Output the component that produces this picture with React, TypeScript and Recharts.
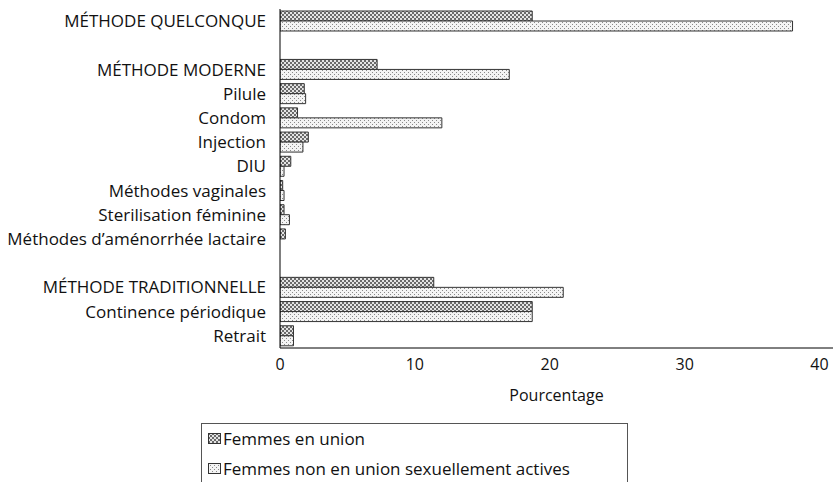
import { BarChart, Bar, XAxis, YAxis } from "recharts";

const categories = [
  "MÉTHODE QUELCONQUE",
  "",
  "MÉTHODE MODERNE",
  "Pilule",
  "Condom",
  "Injection",
  "DIU",
  "Méthodes vaginales",
  "Sterilisation féminine",
  "Méthodes d’aménorrhée lactaire",
  " ",
  "MÉTHODE TRADITIONNELLE",
  "Continence périodique",
  "Retrait",
];

const enUnion = [18.7, null, 7.2, 1.8, 1.3, 2.1, 0.8, 0.2, 0.3, 0.4, null, 11.4, 18.7, 1.0];
const nonUnion = [38.0, null, 17.0, 1.9, 12.0, 1.7, 0.3, 0.3, 0.7, 0, null, 21.0, 18.7, 1.0];

const xTicks = [0, 10, 20, 30, 40];

const data = categories.map((name, i) => ({
  name,
  enUnion: enUnion[i],
  nonUnion: nonUnion[i],
}));

const font = "'Open Sans', Lato, sans-serif";

function Patterns({ prefix }: { prefix: string }) {
  return (
    <defs>
      <pattern id={`${prefix}-cross`} width="4" height="4" patternUnits="userSpaceOnUse">
        <rect width="4" height="4" fill="#e4e4e4" />
        <rect x="0" y="0" width="2" height="2" fill="#6a6a6a" />
        <rect x="2" y="2" width="2" height="2" fill="#6a6a6a" />
      </pattern>
      <pattern id={`${prefix}-dots`} width="4" height="4" patternUnits="userSpaceOnUse">
        <rect width="4" height="4" fill="#f4f4f4" />
        <rect x="0" y="0" width="1" height="1" fill="#8a8a8a" />
        <rect x="2" y="2" width="1" height="1" fill="#8a8a8a" />
      </pattern>
    </defs>
  );
}

function Swatch({ kind }: { kind: string }) {
  return (
    <svg width="13" height="11" style={{ marginRight: 2, flexShrink: 0 }}>
      <Patterns prefix="lg" />
      <rect x="0.5" y="0.5" width="12" height="10" fill={`url(#lg-${kind})`} stroke="#333" />
    </svg>
  );
}

export default function App() {
  return (
    <div style={{ position: "absolute", left: 0, top: 0, width: 833, height: 482, overflow: "hidden", background: "#fff", fontFamily: font }}>
      <BarChart
        width={833}
        height={482}
        data={data}
        layout="vertical"
        margin={{ top: 9, right: 0, bottom: 0, left: 0 }}
        barCategoryGap={2}
        barGap={0}
      >
        <Patterns prefix="bar" />
        <XAxis
          type="number"
          domain={[0, 41]}
          ticks={xTicks}
          allowDataOverflow
          height={134}
          tickLine={false}
          tickSize={0}
          tickMargin={11}
          axisLine={{ stroke: "#000" }}
          tick={{ fill: "#111", fontSize: 16, fontFamily: font }}
          label={{ value: "Pourcentage", position: "insideTop", offset: 42, fill: "#111", fontSize: 16, fontFamily: font }}
        />
        <XAxis
          xAxisId="top"
          type="number"
          orientation="top"
          domain={[0, 41]}
          height={0}
          tick={false}
          tickLine={false}
          axisLine={{ stroke: "#000" }}
        />
        <YAxis
          type="category"
          dataKey="name"
          width={280}
          tickLine={false}
          tickSize={0}
          tickMargin={14}
          interval={0}
          axisLine={{ stroke: "#000" }}
          tick={{ fill: "#111", fontSize: 17, fontFamily: font }}
        />
        <Bar dataKey="enUnion" fill="url(#bar-cross)" stroke="#333" strokeWidth={1} isAnimationActive={false} />
        <Bar dataKey="nonUnion" fill="url(#bar-dots)" stroke="#333" strokeWidth={1} isAnimationActive={false} />
      </BarChart>
      <div
        style={{
          position: "absolute",
          left: 201,
          top: 423,
          width: 427,
          height: 80,
          border: "1px solid #555",
          boxSizing: "border-box",
          fontSize: 17,
          color: "#111",
          paddingLeft: 6,
          paddingTop: 3,
        }}
      >
        <div style={{ display: "flex", alignItems: "center", height: 22 }}>
          <Swatch kind="cross" />
          <span>Femmes en union</span>
        </div>
        <div style={{ display: "flex", alignItems: "center", height: 22, marginTop: 8 }}>
          <Swatch kind="dots" />
          <span>Femmes non en union sexuellement actives</span>
        </div>
      </div>
    </div>
  );
}
